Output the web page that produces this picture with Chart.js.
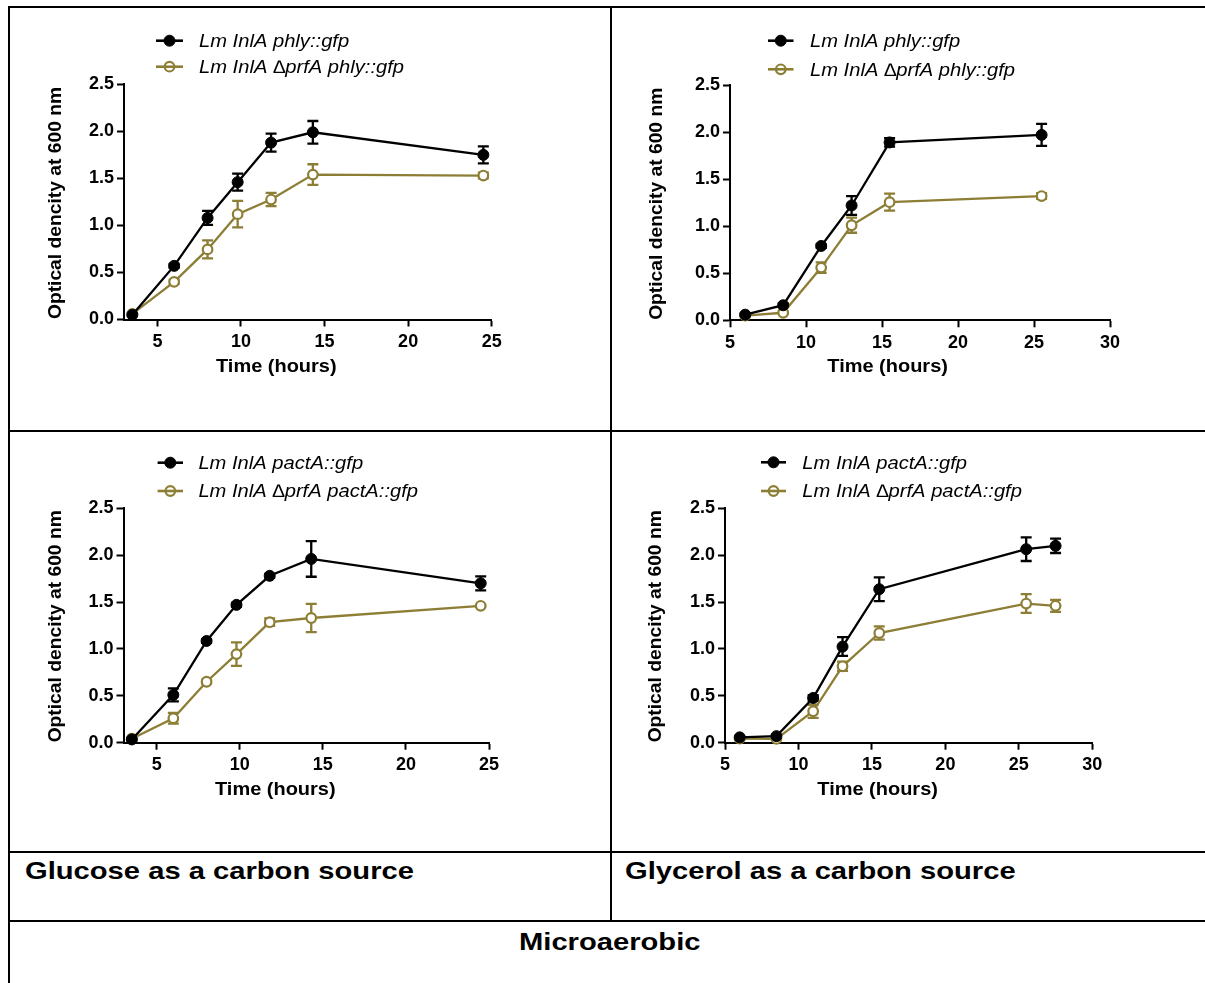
<!DOCTYPE html>
<html>
<head>
<meta charset="utf-8">
<script src="https://cdn.jsdelivr.net/npm/chart.js@4.4.1/dist/chart.umd.min.js"></script>
<style>
  html, body { margin:0; padding:0; background:#fff; }
  body { width:1205px; height:983px; position:relative; overflow:hidden; font-family:"Liberation Sans", Arial, Helvetica, sans-serif; }
  .ln { position:absolute; background:#000; }
  canvas { position:absolute; }
  .lbl { position:absolute; font-weight:bold; font-size:24px; line-height:24px; white-space:nowrap; transform-origin:left top; transform:scaleX(1.215); color:#000; }
</style>
</head>
<body>
<div class="ln" style="left:8px;top:6px;width:1197px;height:2px"></div>
<div class="ln" style="left:8px;top:6px;width:2px;height:977px"></div>
<div class="ln" style="left:610px;top:6px;width:2px;height:916px"></div>
<div class="ln" style="left:8px;top:430px;width:1197px;height:2px"></div>
<div class="ln" style="left:8px;top:851px;width:1197px;height:2px"></div>
<div class="ln" style="left:8px;top:920px;width:1197px;height:2px"></div>

<canvas id="c1"></canvas>
<canvas id="c2"></canvas>
<canvas id="c3"></canvas>
<canvas id="c4"></canvas>

<div class="lbl" style="left:25px;top:859px">Glucose as a carbon source</div>
<div class="lbl" style="left:625px;top:859px">Glycerol as a carbon source</div>
<div class="lbl" style="left:519px;top:930px">Microaerobic</div>

<script>
// ---------------- DATA ----------------
const glucoseTime   = [3.5, 6, 8, 9.8, 11.8, 14.3, 24.5];
const glycerolTimeA = [6, 8.5, 11, 13, 15.5, 25.5];
const glycerolTimeB = [6, 8.5, 11, 13, 15.5, 25.5, 27.5];

const glucosePhlyWT      = [0.05, 0.57, 1.08, 1.46, 1.88, 1.99, 1.75];
const glucosePhlyWTErr   = [0.01, 0.02, 0.075, 0.09, 0.095, 0.12, 0.09];
const glucosePhlyPrfA    = [0.06, 0.40, 0.745, 1.12, 1.275, 1.54, 1.53];
const glucosePhlyPrfAErr = [0.01, 0.02, 0.095, 0.14, 0.07, 0.11, 0.03];

const glycerolPhlyWT      = [0.06, 0.16, 0.79, 1.22, 1.89, 1.97];
const glycerolPhlyWTErr   = [0.01, 0.02, 0.02, 0.10, 0.045, 0.117];
const glycerolPhlyPrfA    = [0.05, 0.08, 0.56, 1.01, 1.255, 1.32];
const glycerolPhlyPrfAErr = [0.01, 0.01, 0.055, 0.08, 0.09, 0.03];

const glucosePactWT      = [0.035, 0.51, 1.085, 1.47, 1.78, 1.96, 1.70];
const glucosePactWTErr   = [0.01, 0.07, 0.02, 0.02, 0.02, 0.19, 0.075];
const glucosePactPrfA    = [0.043, 0.26, 0.65, 0.945, 1.285, 1.33, 1.46];
const glucosePactPrfAErr = [0.01, 0.057, 0.02, 0.126, 0.04, 0.15, 0.01];

const glycerolPactWT      = [0.057, 0.07, 0.477, 1.025, 1.637, 2.064, 2.10];
const glycerolPactWTErr   = [0.01, 0.01, 0.03, 0.10, 0.126, 0.126, 0.077];
const glycerolPactPrfA    = [0.043, 0.04, 0.335, 0.815, 1.17, 1.484, 1.46];
const glycerolPactPrfAErr = [0.01, 0.01, 0.07, 0.05, 0.07, 0.10, 0.064];

const yTicks          = [0, 0.5, 1.0, 1.5, 2.0, 2.5];
const glucoseXTicks   = [5, 10, 15, 20, 25];
const glycerolXTicks  = [5, 10, 15, 20, 25, 30];

const phlyLabels  = ['Lm InlA phly::gfp', 'Lm InlA \u2206prfA phly::gfp'];
const pactLabels  = ['Lm InlA pactA::gfp', 'Lm InlA \u2206prfA pactA::gfp'];
const xTitleText  = 'Time (hours)';
const yTitleText  = 'Optical dencity at 600 nm';

// ---------------- STYLE ----------------
const FONT = '"Liberation Sans", Arial, Helvetica, sans-serif';
const BLACK = '#000000';
const GOLD = '#8d7e36';

function pts(xs, ys) { return xs.map((x, i) => ({ x: x, y: ys[i] })); }

const decor = {
  id: 'decor',
  beforeDatasetsDraw(chart, args, o) {
    const ctx = chart.ctx, xs = chart.scales.x, ys = chart.scales.y;
    chart.data.datasets.forEach(ds => {
      if (!ds.errors) return;
      ctx.save();
      ctx.strokeStyle = ds.borderColor;
      ctx.lineWidth = 2.3;
      ds.data.forEach((p, j) => {
        const e = ds.errors[j];
        const px = xs.getPixelForValue(p.x);
        const top = ys.getPixelForValue(p.y + e);
        const bot = ys.getPixelForValue(p.y - e);
        ctx.beginPath();
        ctx.moveTo(px, top); ctx.lineTo(px, bot);
        ctx.moveTo(px - 5.5, top); ctx.lineTo(px + 5.5, top);
        ctx.moveTo(px - 5.5, bot); ctx.lineTo(px + 5.5, bot);
        ctx.stroke();
      });
      ctx.restore();
    });
  },
  afterDraw(chart, args, o) {
    const ctx = chart.ctx;
    const ox = o.origin[0], oy = o.origin[1];
    ctx.save();
    ctx.fillStyle = '#000';
    // legend
    const L = o.legend;
    chart.data.datasets.forEach((ds, i) => {
      const ry = L.rows[i] - oy;
      const x0 = L.x0 - ox, x1 = L.x1 - ox, cx = (x0 + x1) / 2;
      ctx.strokeStyle = ds.borderColor;
      ctx.lineWidth = 2.6;
      ctx.beginPath(); ctx.moveTo(x0, ry); ctx.lineTo(x1, ry); ctx.stroke();
      ctx.beginPath();
      ctx.arc(cx, ry, i === 0 ? 5.5 : 4.8, 0, Math.PI * 2);
      if (i === 0) { ctx.fillStyle = ds.borderColor; ctx.fill(); }
      ctx.lineWidth = i === 0 ? 1 : 2.2;
      ctx.stroke();
      ctx.save();
      ctx.fillStyle = '#000';
      ctx.font = 'italic 18px ' + FONT;
      ctx.textAlign = 'left'; ctx.textBaseline = 'alphabetic';
      ctx.translate(L.tx - ox, ry + 6.4);
      ctx.scale(1.12, 1);
      ctx.fillText(ds.label, 0, 0);
      ctx.restore();
    });
    // x title
    ctx.save();
    ctx.fillStyle = '#000';
    ctx.font = 'bold 18px ' + FONT;
    ctx.textAlign = 'center'; ctx.textBaseline = 'alphabetic';
    ctx.translate(o.xTitle.cx - ox, o.xTitle.base - oy);
    ctx.scale(1.11, 1);
    ctx.fillText(xTitleText, 0, 0);
    ctx.restore();
    // y title
    ctx.save();
    ctx.fillStyle = '#000';
    ctx.font = 'bold 17.5px ' + FONT;
    ctx.textAlign = 'center'; ctx.textBaseline = 'alphabetic';
    ctx.translate(o.yTitle.bx - ox, o.yTitle.cy - oy);
    ctx.rotate(-Math.PI / 2);
    ctx.scale(1.1, 1);
    ctx.fillText(yTitleText, 0, 0);
    ctx.restore();
    ctx.restore();
  }
};

function makeChart(id, cell, plot, xMin, xMax, xTickVals, series, labels, legend, xTitle, yTitle) {
  const cv = document.getElementById(id);
  cv.width = cell.w; cv.height = cell.h;
  cv.style.left = cell.x + 'px'; cv.style.top = cell.y + 'px';
  cv.style.width = cell.w + 'px'; cv.style.height = cell.h + 'px';
  const yW = 60, xH = 40;
  const padding = {
    left: plot.l - cell.x - yW,
    right: cell.x + cell.w - plot.r,
    top: plot.t - cell.y,
    bottom: cell.y + cell.h - plot.b - xH
  };
  const tickFont = { family: FONT, size: 18, weight: 'bold' };
  const axisCommon = {
    grid: { display: true, drawOnChartArea: false, drawTicks: true, tickLength: 7, tickWidth: 2, tickColor: '#000' },
    border: { display: true, color: '#000', width: 2 },
  };
  new Chart(cv.getContext('2d'), {
    type: 'line',
    data: {
      datasets: [
        { label: labels[0], data: pts(series.x, series.wt), errors: series.wtErr,
          borderColor: BLACK, backgroundColor: BLACK, borderWidth: 2.3, tension: 0,
          pointRadius: 5.5, pointBorderWidth: 1, pointBackgroundColor: BLACK, pointBorderColor: BLACK, clip: false },
        { label: labels[1], data: pts(series.x, series.mut), errors: series.mutErr,
          borderColor: GOLD, backgroundColor: GOLD, borderWidth: 2.3, tension: 0,
          pointRadius: 4.8, pointBorderWidth: 2.2, pointBackgroundColor: '#ffffff', pointBorderColor: GOLD, clip: false }
      ]
    },
    options: {
      responsive: false, animation: false,
      layout: { padding: padding },
      plugins: {
        legend: { display: false }, tooltip: { enabled: false }, title: { display: false },
        decor: { origin: [cell.x, cell.y], legend: legend, xTitle: xTitle, yTitle: yTitle }
      },
      scales: {
        x: Object.assign({}, axisCommon, {
          type: 'linear', position: 'bottom', min: xMin, max: xMax,
          ticks: { font: tickFont, color: '#000', padding: 5, maxRotation: 0, autoSkip: false, callback: v => String(v) },
          afterBuildTicks: s => { s.ticks = xTickVals.map(v => ({ value: v })); },
          afterFit: s => { s.height = xH; }
        }),
        y: Object.assign({}, axisCommon, {
          type: 'linear', position: 'left', min: 0, max: 2.5,
          ticks: { font: tickFont, color: '#000', padding: 3, callback: v => Number(v).toFixed(1) },
          afterBuildTicks: s => { s.ticks = yTicks.map(v => ({ value: v })); },
          afterFit: s => { s.width = yW; }
        })
      }
    },
    plugins: [decor]
  });
}

makeChart('c1', { x: 10, y: 8, w: 600, h: 422 }, { l: 124, r: 491.7, t: 84.3, b: 319.5 }, 3, 25, glucoseXTicks,
  { x: glucoseTime, wt: glucosePhlyWT, wtErr: glucosePhlyWTErr, mut: glucosePhlyPrfA, mutErr: glucosePhlyPrfAErr },
  phlyLabels, { x0: 156, x1: 183, tx: 199, rows: [40.7, 66.7] },
  { cx: 276.3, base: 372 }, { bx: 61, cy: 203 });

makeChart('c2', { x: 612, y: 8, w: 593, h: 422 }, { l: 730, r: 1110, t: 85, b: 320.3 }, 5, 30, glycerolXTicks,
  { x: glycerolTimeA, wt: glycerolPhlyWT, wtErr: glycerolPhlyWTErr, mut: glycerolPhlyPrfA, mutErr: glycerolPhlyPrfAErr },
  phlyLabels, { x0: 768, x1: 793.5, tx: 810, rows: [40.7, 69.3] },
  { cx: 887.6, base: 372 }, { bx: 662, cy: 203.8 });

makeChart('c3', { x: 10, y: 432, w: 600, h: 419 }, { l: 123.5, r: 489, t: 508.3, b: 742.7 }, 3, 25, glucoseXTicks,
  { x: glucoseTime, wt: glucosePactWT, wtErr: glucosePactWTErr, mut: glucosePactPrfA, mutErr: glucosePactPrfAErr },
  pactLabels, { x0: 157.6, x1: 183, tx: 198.4, rows: [462.7, 491] },
  { cx: 275.3, base: 795 }, { bx: 61, cy: 626.3 });

makeChart('c4', { x: 612, y: 432, w: 593, h: 419 }, { l: 725, r: 1092.3, t: 508.3, b: 742.7 }, 5, 30, glycerolXTicks,
  { x: glycerolTimeB, wt: glycerolPactWT, wtErr: glycerolPactWTErr, mut: glycerolPactPrfA, mutErr: glycerolPactPrfAErr },
  pactLabels, { x0: 761, x1: 786, tx: 802.3, rows: [462.3, 491] },
  { cx: 877.6, base: 795 }, { bx: 661, cy: 626.3 });
</script>
</body>
</html>
